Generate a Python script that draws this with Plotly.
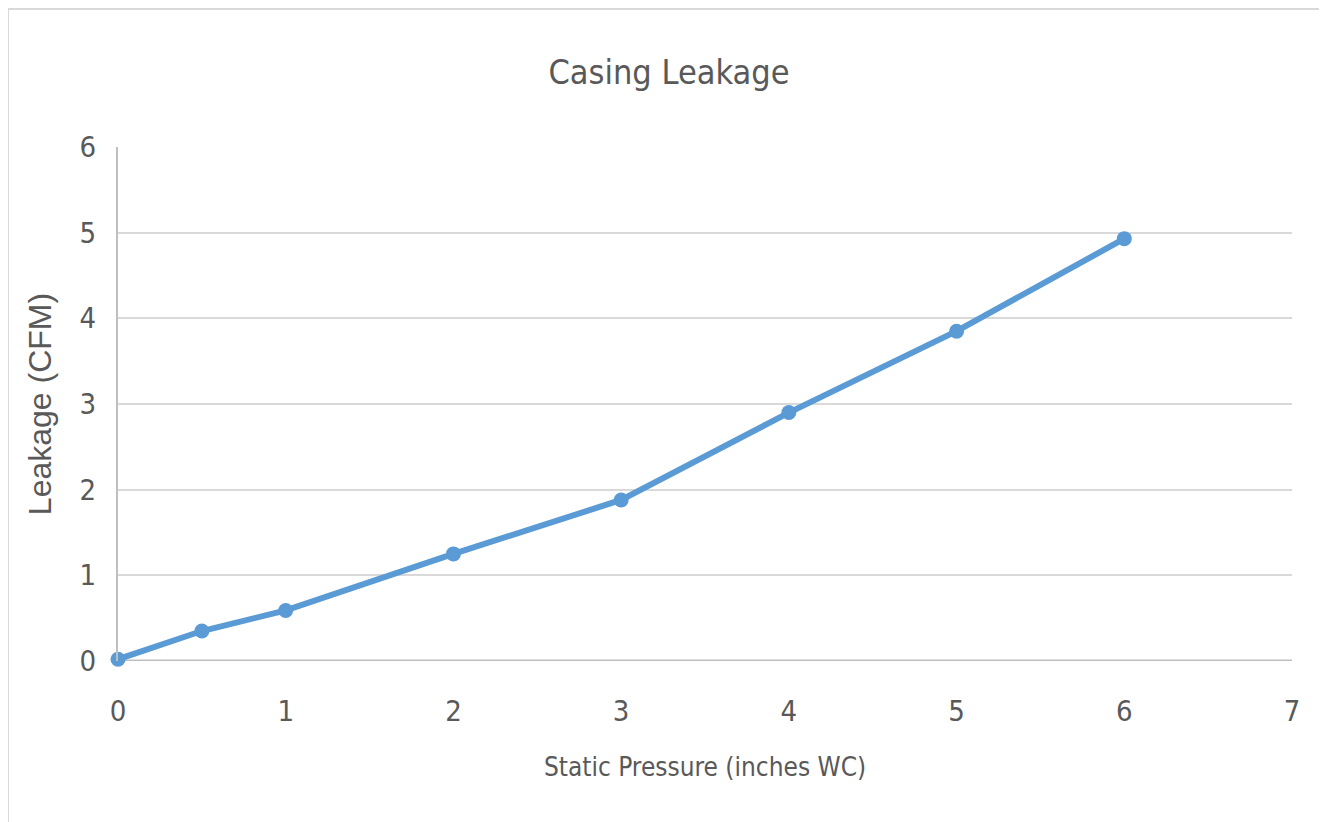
import plotly.graph_objects as go

# Data
pressure = [0, 0.5, 1, 2, 3, 4, 5, 6]
leakage = [0.02, 0.35, 0.59, 1.25, 1.88, 2.90, 3.85, 4.93]
x_ticks = [0, 1, 2, 3, 4, 5, 6, 7]
y_ticks = [0, 1, 2, 3, 4, 5, 6]

title_text = "Casing Leakage"
x_title = "Static Pressure (inches WC)"
y_title = "Leakage (CFM)"

# page body has an 8px margin, so the figure is drawn 8px smaller
W, H = 1319, 814
ML, MR, MT, MB = 110, 35, 139, 161
pw = W - ML - MR
ph = H - MT - MB

txt = "#595959"
narrow = "DejaVu Sans Condensed"

fig = go.Figure()
fig.add_trace(go.Scatter(
    x=pressure, y=leakage, mode="lines+markers",
    line=dict(color="#5b9bd5", width=6),
    marker=dict(color="#5b9bd5", size=15),
    showlegend=False, cliponaxis=False,
))

fig.update_layout(
    width=W, height=H,
    margin=dict(l=ML, r=MR, t=MT, b=MB),
    paper_bgcolor="white", plot_bgcolor="white",
    title=dict(text=title_text, x=(661 - ML) / pw, xref="paper", xanchor="center",
               y=1 - 64 / H, yanchor="middle", yref="container",
               font=dict(family=narrow, size=34, color=txt)),
    xaxis=dict(range=[0, 7], tickvals=x_ticks, showgrid=False, zeroline=False,
               showline=False, ticks="", ticklabelstandoff=30,
               tickfont=dict(family=narrow, size=29, color=txt),
               title=dict(text=x_title, standoff=30,
                          font=dict(family=narrow, size=26, color=txt))),
    yaxis=dict(range=[0, 6], tickvals=y_ticks, showgrid=True, gridcolor="#d9d9d9",
               gridwidth=2, zeroline=False, showline=True, linecolor="#bfbfbf",
               linewidth=2, ticks="", ticklabelstandoff=14,
               tickfont=dict(family=narrow, size=29, color=txt),
               title=dict(text=y_title, standoff=18,
                          font=dict(family="Liberation Sans, Arial, sans-serif", size=32, color=txt))),
)

# x-axis baseline at y=0
fig.add_shape(type="line", xref="paper", yref="y", x0=0, x1=1, y0=0, y1=0,
              line=dict(color="#bfbfbf", width=3), layer="below")

# outer chart border
fig.add_shape(type="rect", xref="paper", yref="paper",
              x0=(0 - ML) / pw, x1=(1318 - ML) / pw,
              y0=(H - MB - 830) / ph, y1=(H - MB - 1) / ph,
              line=dict(color="#d9d9d9", width=2), layer="below")

fig.write_html("out.html")
